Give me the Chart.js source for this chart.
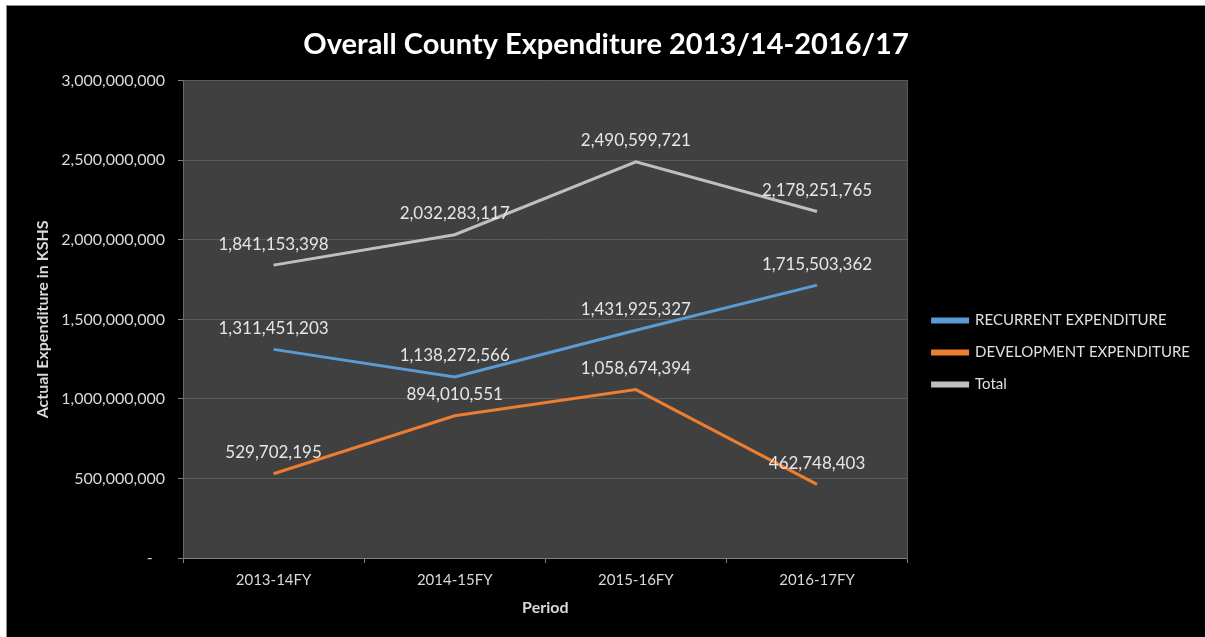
<!DOCTYPE html>
<html>
<head>
<meta charset="utf-8">
<script src="https://cdn.jsdelivr.net/npm/chart.js@4/dist/chart.umd.min.js"></script>
<style>
  html, body { margin: 0; padding: 0; background: #ffffff; width: 1205px; height: 637px; overflow: hidden; }
  #wrap { position: absolute; left: 6px; top: 5px; width: 1198px; height: 631px; background: #000; border-top: 1px solid #8a8a8a; border-left: 1px solid #8a8a8a; }
  canvas { display: block; }
</style>
</head>
<body>
<div id="wrap"><canvas id="c" width="1198" height="631"></canvas></div>
<script>
const categories = ['2013-14FY', '2014-15FY', '2015-16FY', '2016-17FY'];
const recurrent = [1311451203, 1138272566, 1431925327, 1715503362];
const development = [529702195, 894010551, 1058674394, 462748403];
const total = [1841153398, 2032283117, 2490599721, 2178251765];
const seriesNames = ['RECURRENT EXPENDITURE', 'DEVELOPMENT EXPENDITURE', 'Total'];
const yMin = 0, yMax = 3000000000, yStep = 500000000;

const FONT = 'Lato, "Open Sans", sans-serif';
const fmt = v => Number(v).toLocaleString('en-US');

const plotBg = {
  id: 'plotBg',
  beforeDraw(chart) {
    const {ctx, chartArea: a} = chart;
    ctx.save();
    ctx.fillStyle = '#404040';
    ctx.fillRect(a.left, a.top, a.right - a.left, a.bottom - a.top);
    ctx.restore();
  }
};

const valueLabels = {
  id: 'valueLabels',
  afterDatasetsDraw(chart) {
    const {ctx} = chart;
    ctx.save();
    ctx.font = '17px ' + FONT;
    ctx.fillStyle = '#e6e6e6';
    ctx.textAlign = 'center';
    ctx.textBaseline = 'middle';
    chart.data.datasets.forEach((ds, i) => {
      const meta = chart.getDatasetMeta(i);
      meta.data.forEach((pt, j) => {
        ctx.fillText(fmt(ds.data[j]), pt.x, pt.y - 21);
      });
    });
    ctx.restore();
  }
};

new Chart(document.getElementById('c'), {
  type: 'line',
  data: {
    labels: categories,
    datasets: [
      { label: seriesNames[0], data: recurrent, borderColor: '#5b9bd5', backgroundColor: '#5b9bd5', borderWidth: 3, pointRadius: 0, tension: 0 },
      { label: seriesNames[1], data: development, borderColor: '#ed7d31', backgroundColor: '#ed7d31', borderWidth: 3, pointRadius: 0, tension: 0 },
      { label: seriesNames[2], data: total, borderColor: '#bfbfbf', backgroundColor: '#bfbfbf', borderWidth: 3, pointRadius: 0, tension: 0 }
    ]
  },
  options: {
    responsive: false,
    animation: false,
    devicePixelRatio: 1,
    layout: { padding: { left: 5, right: 5, top: 10, bottom: 20 } },
    plugins: {
      title: {
        display: true,
        text: 'Overall County Expenditure 2013/14-2016/17',
        color: '#ffffff',
        font: { family: FONT, size: 29, weight: 'bold' },
        padding: { top: 11, bottom: 19 }
      },
      legend: {
        position: 'right',
        align: 'center',
        maxWidth: 400,
        title: { display: true, text: '', font: { size: 10 }, padding: { top: 60, bottom: 0 } },
        labels: {
          color: '#e0e0e0',
          font: { family: FONT, size: 15 },
          boxWidth: 35,
          boxHeight: 3,
          padding: 17
        }
      },
      tooltip: { enabled: false }
    },
    scales: {
      x: {
        offset: true,
        grid: { display: true, offset: true, drawOnChartArea: false, drawTicks: true, tickLength: 5, tickColor: '#7f7f7f' },
        border: { display: true, color: '#7f7f7f' },
        ticks: { color: '#d9d9d9', font: { family: FONT, size: 15 }, padding: 8, maxRotation: 0 },
        title: { display: true, text: 'Period', color: '#d9d9d9', font: { family: FONT, size: 16, weight: 'bold' }, padding: { top: 0, bottom: 0 } },
        afterFit(s) { s.height = 59; }
      },
      y: {
        min: yMin, max: yMax,
        grid: { color: '#5a5a5a', tickColor: '#7f7f7f', tickLength: 5, drawTicks: true },
        border: { display: true, color: '#6a6a6a' },
        ticks: { stepSize: yStep, color: '#d9d9d9', font: { family: FONT, size: 16 }, padding: 13,
          callback: v => v === 0 ? '-   ' : fmt(v) },
        title: { display: true, text: 'Actual Expenditure in KSHS', color: '#d9d9d9', font: { family: FONT, size: 16, weight: 'bold' }, padding: { top: 21, bottom: 0 } },
        afterFit(s) { s.width = 171; }
      },
      y2: {
        position: 'right',
        display: true,
        grid: { display: false, drawTicks: false },
        border: { display: true, color: '#5a5a5a' },
        ticks: { display: false },
        afterFit(s) { s.width = 8; }
      }
    }
  },
  plugins: [plotBg, valueLabels]
});
</script>
</body>
</html>
